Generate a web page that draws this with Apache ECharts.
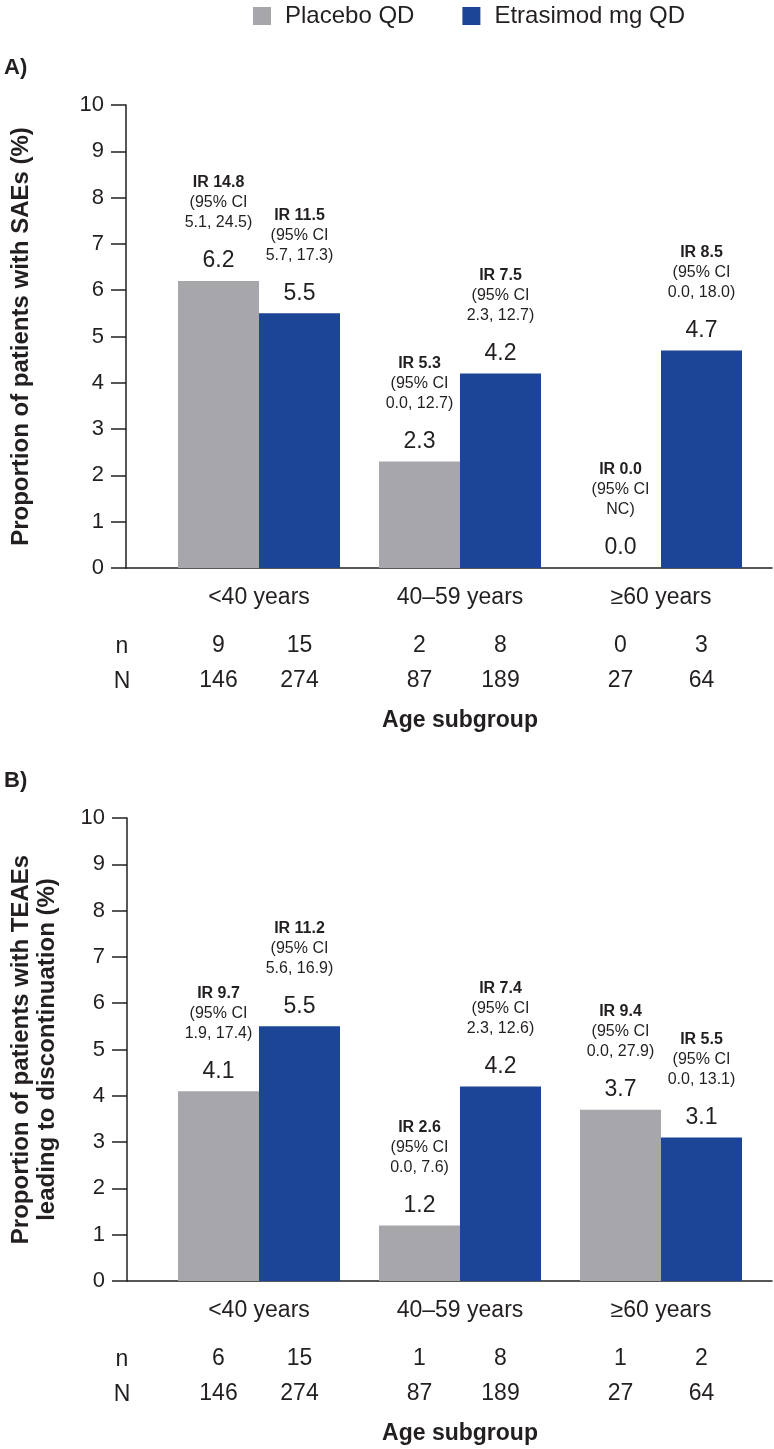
<!DOCTYPE html>
<html><head><meta charset="utf-8">
<script src="https://cdn.jsdelivr.net/npm/echarts@6/dist/echarts.min.js"></script>
<style>html,body{margin:0;padding:0;background:#fff}#c{width:774px;height:1449px}</style>
</head><body><div id="c"></div>
<script>
// ---------- data ----------
const categories = ['<40 years', '40–59 years', '≥60 years'];
const seriesNames = ['Placebo QD', 'Etrasimod mg QD'];

// Panel A: SAEs
const aPlacebo = [6.2, 2.3, 0.0];
const aEtrasimod = [5.5, 4.2, 4.7];
const aPlaceboIR = ['14.8', '5.3', '0.0'];
const aPlaceboCI = ['5.1, 24.5', '0.0, 12.7', 'NC'];
const aEtrasimodIR = ['11.5', '7.5', '8.5'];
const aEtrasimodCI = ['5.7, 17.3', '2.3, 12.7', '0.0, 18.0'];
const aPlaceboSmallN = [9, 2, 0];
const aEtrasimodSmallN = [15, 8, 3];
const aPlaceboBigN = [146, 87, 27];
const aEtrasimodBigN = [274, 189, 64];

// Panel B: TEAEs leading to discontinuation
const bPlacebo = [4.1, 1.2, 3.7];
const bEtrasimod = [5.5, 4.2, 3.1];
const bPlaceboIR = ['9.7', '2.6', '9.4'];
const bPlaceboCI = ['1.9, 17.4', '0.0, 7.6', '0.0, 27.9'];
const bEtrasimodIR = ['11.2', '7.4', '5.5'];
const bEtrasimodCI = ['5.6, 16.9', '2.3, 12.6', '0.0, 13.1'];
const bPlaceboSmallN = [6, 1, 1];
const bEtrasimodSmallN = [15, 8, 2];
const bPlaceboBigN = [146, 87, 27];
const bEtrasimodBigN = [274, 189, 64];

const yTitleA = 'Proportion of patients with SAEs (%)';
const yTitleB = 'Proportion of patients with TEAEs\nleading to discontinuation (%)';
const xTitle = 'Age subgroup';

// ---------- style ----------
const FONT = "'Liberation Sans', Arial, Helvetica, sans-serif";
const INK = '#231f20';
const GRAY = '#a7a6aa';
const BLUE = '#1d4596';
const PANEL_H = 463;
const PANEL_TOPS = [105, 818];

const grids = [], xAxes = [], yAxes = [], series = [], graphics = [];

function topLabel(ir, ci) {
  return {
    show: true, position: 'top', distance: 6,
    formatter: p => `{ir|IR ${ir[p.dataIndex]}}\n{ci|(95% CI}\n{ci|${ci[p.dataIndex]})}\n{sp| }\n{v|${p.value.toFixed(1)}}`,
    rich: {
      ir: { fontFamily: FONT, fontWeight: 'bold', fontSize: 16, lineHeight: 20, color: INK, align: 'center' },
      ci: { fontFamily: FONT, fontSize: 16, lineHeight: 20, color: INK, align: 'center' },
      sp: { fontSize: 1, lineHeight: 14 },
      v: { fontFamily: FONT, fontSize: 23, lineHeight: 28, color: INK, align: 'center' }
    }
  };
}

function addPanel(p, top, yTitle, nameGap, pl, et, plIR, plCI, etIR, etCI, nP, nE, NP, NE) {
  const g0 = grids.length;
  grids.push({ left: 123, width: 649, top: top, height: PANEL_H });
  grids.push({ left: 158.5, width: 603, top: top, height: PANEL_H });
  const xi = xAxes.length;
  xAxes.push({
    type: 'category', gridIndex: g0, data: [''],
    axisLine: { show: true, lineStyle: { color: INK, width: 1.5 } },
    axisTick: { show: false }, axisLabel: { show: false }, splitLine: { show: false }
  });
  xAxes.push({
    type: 'category', gridIndex: g0 + 1, data: categories,
    axisLine: { show: false }, axisTick: { show: false }, splitLine: { show: false },
    axisLabel: {
      interval: 0, margin: 0,
      formatter: (v, i) => `{c|${v}}\n{n|${nP[i]}}{n|${nE[i]}}\n{n|${NP[i]}}{n|${NE[i]}}`,
      rich: {
        c: { fontFamily: FONT, fontSize: 23, lineHeight: 60, color: INK, align: 'center' },
        n: { fontFamily: FONT, fontSize: 23, lineHeight: 35, width: 81, color: INK, align: 'center' }
      }
    },
    name: xTitle, nameLocation: 'middle', nameGap: 141,
    nameTextStyle: { fontFamily: FONT, fontWeight: 'bold', fontSize: 23, color: INK }
  });
  const yi = yAxes.length;
  yAxes.push({
    type: 'value', gridIndex: g0, min: 0, max: 10, interval: 1,
    axisLine: { show: true, lineStyle: { color: INK, width: 1.5 } },
    axisTick: { show: true, length: 15, lineStyle: { color: INK, width: 1.5 } },
    axisLabel: { margin: 22, fontFamily: FONT, fontSize: 22, color: INK },
    splitLine: { show: false },
    name: yTitle, nameLocation: 'middle', nameRotate: 90, nameGap: nameGap,
    nameTextStyle: { fontFamily: FONT, fontWeight: 'bold', fontSize: 24, lineHeight: 26, color: INK }
  });
  yAxes.push({ type: 'value', gridIndex: g0 + 1, min: 0, max: 10, show: false });

  series.push({
    type: 'bar', name: seriesNames[0], xAxisIndex: xi + 1, yAxisIndex: yi + 1,
    data: pl, barWidth: 81, barGap: '0%', itemStyle: { color: GRAY },
    label: topLabel(plIR, plCI)
  });
  series.push({
    type: 'bar', name: seriesNames[1], xAxisIndex: xi + 1, yAxisIndex: yi + 1,
    data: et, barWidth: 81, barGap: '0%', itemStyle: { color: BLUE },
    label: topLabel(etIR, etCI)
  });

  const base = top + PANEL_H;
  graphics.push({ type: 'text', left: 4, top: top - 48,
    style: { text: p, font: `bold 22px ${FONT}`, fill: INK } });
  graphics.push({ type: 'text', x: 122, y: base + 79,
    style: { text: 'n', font: `23px ${FONT}`, fill: INK, textAlign: 'center', textVerticalAlign: 'middle' } });
  graphics.push({ type: 'text', x: 122, y: base + 114,
    style: { text: 'N', font: `23px ${FONT}`, fill: INK, textAlign: 'center', textVerticalAlign: 'middle' } });
}

addPanel('A)', PANEL_TOPS[0], yTitleA, 92, aPlacebo, aEtrasimod, aPlaceboIR, aPlaceboCI, aEtrasimodIR, aEtrasimodCI,
  aPlaceboSmallN, aEtrasimodSmallN, aPlaceboBigN, aEtrasimodBigN);
addPanel('B)', PANEL_TOPS[1], yTitleB, 67, bPlacebo, bEtrasimod, bPlaceboIR, bPlaceboCI, bEtrasimodIR, bEtrasimodCI,
  bPlaceboSmallN, bEtrasimodSmallN, bPlaceboBigN, bEtrasimodBigN);

const chart = echarts.init(document.getElementById('c'), null, { renderer: 'canvas' });
chart.setOption({
  animation: false,
  backgroundColor: '#fff',
  legend: {
    data: seriesNames, left: 253, top: 4, padding: 0, icon: 'rect', itemWidth: 18, itemHeight: 18, itemGap: 48,
    selectedMode: false,
    textStyle: { fontFamily: FONT, fontSize: 24, color: INK, padding: [0, 0, 0, 9] }
  },
  grid: grids, xAxis: xAxes, yAxis: yAxes, series: series, graphic: graphics
});
</script></body></html>
